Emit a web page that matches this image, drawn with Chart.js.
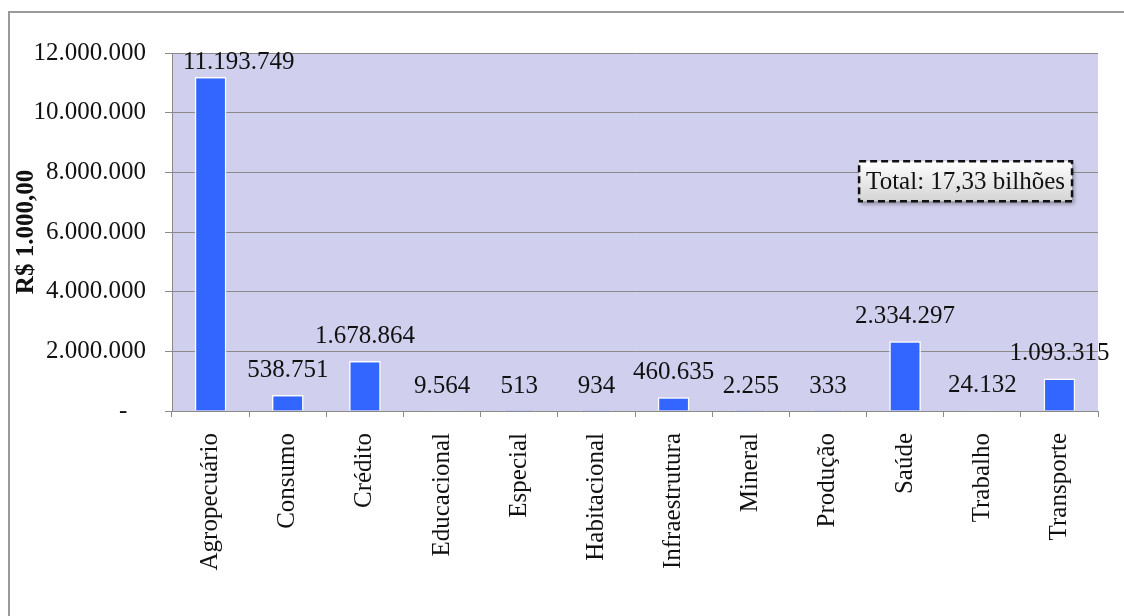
<!DOCTYPE html>
<html>
<head>
<meta charset="utf-8">
<script src="https://cdn.jsdelivr.net/npm/chart.js@4.4.1/dist/chart.umd.min.js"></script>
<style>
  html, body { margin: 0; padding: 0; background: #ffffff; }
  canvas { display: block; }
</style>
</head>
<body>
<canvas id="chart" width="1124" height="616"></canvas>
<script>
// Valores por ramo cooperativo (R$ 1.000,00)
const categories = ['Agropecuário', 'Consumo', 'Crédito', 'Educacional', 'Especial', 'Habitacional',
                    'Infraestrutura', 'Mineral', 'Produção', 'Saúde', 'Trabalho', 'Transporte'];
const values = [11193749, 538751, 1678864, 9564, 513, 934, 460635, 2255, 333, 2334297, 24132, 1093315];
const yTicks = [0, 2000000, 4000000, 6000000, 8000000, 10000000, 12000000];
const yTitle = 'R$ 1.000,00';
const totalNote = 'Total: 17,33 bilhões';

const SERIF = '"Liberation Serif", "Times New Roman", serif';
const FONT_SIZE = 25;
const fmtBR = v => String(v).replace(/\B(?=(\d{3})+(?!\d))/g, '.');

// Moldura da figura (linha à esquerda e no topo) e fundo da área de plotagem
const framePlugin = {
  id: 'frame',
  beforeDraw(chart) {
    const ctx = chart.ctx;
    ctx.save();
    ctx.strokeStyle = '#9a9a9a';
    ctx.lineWidth = 2;
    ctx.beginPath();
    ctx.moveTo(9, chart.height);
    ctx.lineTo(9, 12);
    ctx.lineTo(chart.width, 12);
    ctx.stroke();
    const a = chart.chartArea;
    ctx.fillStyle = '#d0d0ee';
    ctx.fillRect(a.left, a.top, a.right - a.left, a.bottom - a.top);
    ctx.restore();
  }
};

// Rótulos de valor acima das barras, mantidos dentro da área de plotagem
const valueLabels = {
  id: 'valueLabels',
  afterDatasetsDraw(chart) {
    const ctx = chart.ctx;
    const meta = chart.getDatasetMeta(0);
    const a = chart.chartArea;
    ctx.save();
    ctx.font = FONT_SIZE + 'px ' + SERIF;
    ctx.fillStyle = '#111';
    ctx.textAlign = 'center';
    ctx.textBaseline = 'alphabetic';
    meta.data.forEach((bar, i) => {
      const text = fmtBR(values[i]);
      const half = ctx.measureText(text).width / 2;
      const x = Math.max(bar.x, a.left + 11 + half);
      const y = Math.max(bar.y - 18, a.top + 16);
      ctx.fillText(text, x, y);
    });
    ctx.restore();
  }
};

// Caixa de anotação com o total
const totalBox = {
  id: 'totalBox',
  afterDraw(chart) {
    const ctx = chart.ctx;
    const a = chart.chartArea;
    const cx = a.left + (a.right - a.left) * 0.857;
    const cy = chart.scales.y.getPixelForValue(7700000);
    ctx.save();
    ctx.font = FONT_SIZE + 'px ' + SERIF;
    const w = ctx.measureText(totalNote).width + 14;
    const h = 40;
    const x = cx - w / 2, y = cy - h / 2;
    ctx.shadowColor = 'rgba(0,0,0,0.35)';
    ctx.shadowBlur = 4;
    ctx.shadowOffsetX = 2;
    ctx.shadowOffsetY = 3;
    const g = ctx.createLinearGradient(0, y, 0, y + h);
    g.addColorStop(0, '#ffffff');
    g.addColorStop(1, '#d4d4d4');
    ctx.fillStyle = g;
    ctx.fillRect(x, y, w, h);
    ctx.shadowColor = 'transparent';
    ctx.setLineDash([7, 4]);
    ctx.lineWidth = 2.5;
    ctx.strokeStyle = '#111';
    ctx.strokeRect(x, y, w, h);
    ctx.setLineDash([]);
    ctx.fillStyle = '#111';
    ctx.textAlign = 'center';
    ctx.textBaseline = 'middle';
    ctx.fillText(totalNote, cx, cy + 1);
    ctx.restore();
  }
};

new Chart(document.getElementById('chart'), {
  type: 'bar',
  data: {
    labels: categories,
    datasets: [{
      data: values,
      backgroundColor: '#3366ff',
      borderColor: '#ffffff',
      borderWidth: 1.5,
      barPercentage: 0.41,
      categoryPercentage: 1
    }]
  },
  options: {
    responsive: false,
    animation: false,
    devicePixelRatio: 1,
    layout: { padding: { top: 53, right: 26, left: 0, bottom: 0 } },
    plugins: { legend: { display: false }, tooltip: { enabled: false } },
    scales: {
      x: {
        grid: { offset: true, drawOnChartArea: false, color: '#8a8a8a', tickLength: 6 },
        border: { color: '#8a8a8a' },
        ticks: {
          autoSkip: false, minRotation: 90, maxRotation: 90, padding: 16,
          color: '#111', font: { family: SERIF, size: FONT_SIZE }
        },
        afterFit(scale) { scale.height = 205; }
      },
      y: {
        min: 0,
        max: 12000000,
        afterBuildTicks(scale) { scale.ticks = yTicks.map(v => ({ value: v })); },
        grid: { color: '#8a8a8a', tickLength: 7 },
        border: { color: '#8a8a8a' },
        ticks: {
          padding: 19,
          color: '#111',
          font: { family: SERIF, size: FONT_SIZE },
          callback: v => (v === 0 ? '-   ' : fmtBR(v))
        },
        title: {
          display: true, text: yTitle, color: '#111',
          font: { family: SERIF, size: FONT_SIZE, weight: 'bold' },
          padding: { top: 12, bottom: 0 }
        },
        afterFit(scale) { scale.width = 172; }
      }
    }
  },
  plugins: [framePlugin, valueLabels, totalBox]
});
</script>
</body>
</html>
